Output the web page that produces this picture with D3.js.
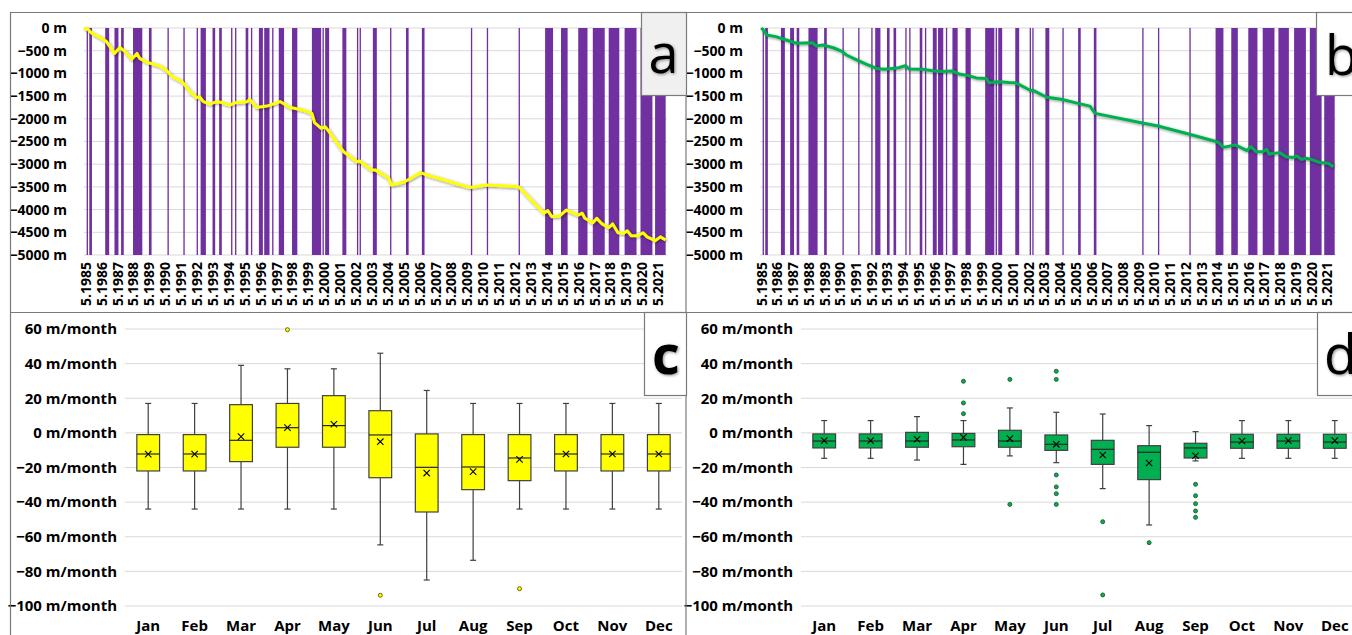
<!DOCTYPE html>
<html>
<head>
<meta charset="utf-8">
<script src="https://cdn.jsdelivr.net/npm/d3@7"></script>
<style>
	body { margin: 0; background: #fff; }
	svg { display: block; font-family: "Open Sans", sans-serif; }
</style>
</head>
<body>
<svg id="chart" width="1352" height="635"></svg>
<script>
/* ---- data: cumulative displacement (panels a, b) ---- */
const firstMonth = "1985-05";
const monthCount = 440; // May 1985 .. Dec 2021
const yearTicks = [1985,1986,1987,1988,1989,1990,1991,1992,1993,1994,1995,1996,1997,1998,1999,2000,2001,2002,2003,
	2004,2005,2006,2007,2008,2009,2010,2011,2012,2013,2014,2015,2016,2017,2018,2019,2020,2021];
const depthTicks = [0,-500,-1000,-1500,-2000,-2500,-3000,-3500,-4000,-4500,-5000];

// flagged months, drawn as full height purple columns (same in a and b)
const flaggedMonths = [
	["1985-07","1985-07"],["1985-09","1985-10"],["1986-09","1986-11"],["1987-04","1987-06"],["1987-09","1987-10"],
	["1988-06","1988-12"],["1989-06","1989-07"],["1990-08","1990-08"],["1991-08","1991-08"],["1992-06","1992-06"],
	["1992-09","1992-12"],["1993-06","1993-07"],["1993-11","1993-12"],["1994-08","1994-08"],["1994-11","1994-11"],
	["1995-07","1995-08"],["1995-11","1995-11"],["1996-05","1996-07"],["1996-09","1996-12"],["1997-03","1997-03"],
	["1997-08","1997-11"],["1998-06","1998-09"],["1999-09","2000-03"],["2000-05","2000-05"],["2000-07","2000-09"],
	["2001-08","2001-10"],["2002-07","2002-07"],["2002-09","2002-09"],["2003-07","2003-09"],["2004-08","2004-08"],
	["2005-08","2005-09"],["2006-08","2006-09"],["2009-09","2009-09"],["2010-09","2010-09"],["2012-09","2012-09"],
	["2014-05","2014-10"],["2015-05","2015-09"],["2016-06","2016-12"],["2017-05","2018-01"],["2018-05","2018-12"],
	["2019-05","2020-01"],["2020-05","2021-01"],["2021-04","2021-11"]
];

const lineADates = ["1985-05","1985-08","1985-11","1986-05","1986-10","1987-04","1987-08","1987-12","1988-05","1988-09",
	"1988-11","1989-05","1990-02","1990-07","1990-11","1991-07","1992-01","1992-06","1992-08","1992-11","1993-04",
	"1993-09","1994-01","1994-07","1994-11","1995-08","1995-10","1996-03","1996-11","1997-09","1998-04","1999-02",
	"1999-09","1999-11","2000-04","2000-07","2000-09","2001-04","2001-09","2002-07","2002-09","2003-06","2003-09",
	"2004-07","2004-09","2005-07","2006-07","2006-10","2009-08","2010-09","2012-09","2014-04","2014-07","2014-10",
	"2015-04","2015-09","2016-06","2016-09","2016-11","2017-05","2017-08","2017-12","2018-05","2018-08","2018-12",
	"2019-04","2019-07","2019-10","2020-03","2020-07","2020-10","2021-04","2021-08","2021-12"];
const lineAValues = [0,-30,-120,-205,-300,-560,-430,-520,-690,-560,
	-670,-760,-835,-925,-1060,-1180,-1400,-1535,-1510,-1620,-1675,
	-1620,-1640,-1700,-1645,-1625,-1570,-1750,-1720,-1620,-1745,-1805,
	-1880,-2085,-2210,-2175,-2245,-2540,-2725,-2945,-2930,-3130,-3130,
	-3310,-3460,-3385,-3185,-3220,-3515,-3460,-3495,-4080,-4020,-4155,
	-4140,-4010,-4120,-4080,-4190,-4290,-4190,-4315,-4400,-4315,-4510,
	-4525,-4465,-4575,-4575,-4510,-4600,-4685,-4600,-4670];

const lineBDates = ["1985-06","1985-08","1985-10","1986-05","1987-01","1987-09","1988-09","1988-12","1989-05","1990-01",
	"1990-08","1990-11","1991-06","1992-02","1992-10","1993-04","1993-10","1994-03","1994-08","1994-11","1995-09",
	"1996-05","1996-12","1997-08","1998-01","1998-09","1999-02","1999-10","1999-12","2000-05","2000-08","2001-03",
	"2001-08","2002-07","2002-10","2003-08","2004-07","2005-08","2006-05","2006-09","2009-10","2010-09","2012-09",
	"2014-06","2014-08","2014-11","2015-08","2016-05","2016-08","2016-12","2017-05","2017-08","2017-10","2018-06",
	"2018-11","2019-04","2019-07","2019-11","2020-02","2020-06","2021-01","2021-07","2021-11"];
const lineBValues = [0,-60,-155,-190,-265,-335,-325,-395,-375,-435,
	-520,-595,-690,-795,-890,-910,-890,-875,-830,-905,-910,
	-940,-960,-945,-1015,-1055,-1100,-1115,-1205,-1190,-1185,-1200,
	-1205,-1365,-1380,-1525,-1570,-1660,-1720,-1880,-2100,-2160,-2340,
	-2505,-2540,-2630,-2575,-2700,-2610,-2725,-2725,-2670,-2775,-2745,
	-2835,-2850,-2820,-2895,-2870,-2895,-2965,-2980,-3055];

/* ---- data: monthly rates (panels c, d) ---- */
const months = ["Jan","Feb","Mar","Apr","May","Jun","Jul","Aug","Sep","Oct","Nov","Dec"];
const rateTicks = [60,40,20,0,-20,-40,-60,-80,-100];

const cHigh = [17, 17, 39, 37, 37, 46, 24.5, 17, 17, 17, 17, 17];
const cQ3   = [-1, -1, 16.3, 17, 21.5, 12.8, -0.6, -1, -1, -1, -1, -1];
const cMed  = [-12.2, -12.2, -4.3, 3, 4.2, -1.2, -19.9, -19.7, -14.5, -12.2, -12.2, -12.2];
const cMean = [-12.3, -12.3, -2.2, 3, 5, -5.1, -23.2, -22.4, -15.3, -12.2, -12.2, -12.2];
const cQ1   = [-22, -22, -16.6, -8.3, -8.3, -25.9, -45.7, -32.8, -27.6, -22, -22, -22];
const cLow  = [-44, -44, -44, -44, -44, -64.7, -85, -73.6, -44, -44, -44, -44];
const cOut  = [[], [], [], [59.6], [], [-93.8], [], [], [-90], [], [], []];

const dHigh = [7.1, 7.1, 9.4, 7.1, 14.4, 11.9, 10.9, 4.2, 0.7, 7.1, 7.1, 7.1];
const dQ3   = [-0.6, -0.6, 0.3, -0.3, 1.5, -1.2, -4.3, -7.4, -6, -0.8, -0.8, -0.8];
const dMed  = [-4.7, -4.7, -4.7, -4.1, -4.7, -6.6, -9.5, -11.2, -8.7, -5.3, -4.7, -5.3];
const dMean = [-4.5, -4.5, -3.7, -2.6, -3.3, -6.6, -12.8, -17.4, -13.2, -4.7, -4.5, -4.5];
const dQ1   = [-8.7, -8.7, -8.3, -8, -8.3, -10.1, -18.2, -27, -14.5, -8.9, -8.9, -8.9];
const dLow  = [-14.7, -14.7, -15.7, -18.2, -13.3, -17.2, -32.2, -53.2, -16.2, -14.7, -14.7, -14.7];
const dOut  = [[], [], [], [29.8, 17.3, 11.1], [30.9, -41.3], [35.6, 30.9, -24.3, -31.2, -35.1, -41.3],
	[-51.3, -93.6], [-63.4], [-29.7, -36.3, -40.9, -45.1, -48.8], [], [], []];

/* ---- helpers ---- */
const gridColor = "#d9d9d9";
const frameColor = "#7a7a7a";
const barColor = "#7030a0";
const minus = v => v < 0 ? "\u2212" + Math.abs(v) : "" + v;

function monthIndex(s) {
	const [y, m] = s.split("-").map(Number);
	const [y0, m0] = firstMonth.split("-").map(Number);
	return (y - y0) * 12 + (m - m0);
}

const svg = d3.select("#chart");
const defs = svg.append("defs");

/* soft shadow used below the lines and the panel letters */
const shadow = defs.append("filter").attr("id", "shadow")
	.attr("x", "-5%").attr("y", "-20%").attr("width", "110%").attr("height", "140%");
shadow.append("feGaussianBlur").attr("in", "SourceAlpha").attr("stdDeviation", 1.6).attr("result", "blur");
shadow.append("feOffset").attr("in", "blur").attr("dx", 0.5).attr("dy", 1.2).attr("result", "off");
shadow.append("feComponentTransfer").attr("in", "off").attr("result", "soft")
	.append("feFuncA").attr("type", "linear").attr("slope", 0.45);
const merge = shadow.append("feMerge");
merge.append("feMergeNode").attr("in", "soft");
merge.append("feMergeNode").attr("in", "SourceGraphic");

/* ---- top panels: displacement with flagged months ---- */
function drawTimePanel(p) {
	const g = svg.append("g").attr("class", "panel-" + p.id);
	const x = d3.scaleLinear().domain([0, monthCount]).range([p.x0, p.x1]);
	const y = d3.scaleLinear().domain([0, -5000]).range([28, 255]);

	g.append("g").selectAll("line").data(depthTicks).join("line")
		.attr("x1", p.x0).attr("x2", p.x1)
		.attr("y1", d => y(d)).attr("y2", d => y(d))
		.attr("stroke", gridColor).attr("stroke-width", 1);

	g.append("g").selectAll("rect").data(flaggedMonths).join("rect")
		.attr("x", d => x(monthIndex(d[0])))
		.attr("width", d => x(monthIndex(d[1]) + 1) - x(monthIndex(d[0])))
		.attr("y", y(0)).attr("height", y(-5000) - y(0))
		.attr("fill", barColor);

	const pts = p.dates.map((d, i) => ({ m: monthIndex(d), v: p.values[i] }));
	const line = d3.line().x(d => x(d.m)).y(d => y(d.v)).curve(d3.curveLinear);
	g.append("path").datum(pts)
		.attr("d", line)
		.attr("fill", "none")
		.attr("stroke", p.color)
		.attr("stroke-width", 3)
		.attr("stroke-linejoin", "round")
		.attr("filter", "url(#shadow)");

	g.append("g").selectAll("text").data(depthTicks).join("text")
		.attr("x", p.labelRight).attr("y", d => y(d)).attr("dy", "0.35em")
		.attr("text-anchor", "end")
		.attr("font-size", 14).attr("font-weight", 700).attr("fill", "#000")
		.text(d => minus(d) + " m");

	g.append("g").selectAll("text").data(yearTicks).join("text")
		.attr("transform", d => `translate(${x(monthIndex(d + "-05") + 0.5) + 1},262) rotate(-90)`)
		.attr("dy", "0.36em")
		.attr("text-anchor", "end")
		.attr("font-size", 14).attr("font-weight", 700).attr("fill", "#000")
		.text(d => "5." + d);
}

drawTimePanel({ id: "a", x0: 84, x1: 667, labelRight: 67, dates: lineADates, values: lineAValues, color: "#ffff00" });
drawTimePanel({ id: "b", x0: 760, x1: 1336, labelRight: 743, dates: lineBDates, values: lineBValues, color: "#00b050" });

/* ---- bottom panels: monthly box plots ---- */
function drawBoxPanel(p) {
	const g = svg.append("g").attr("class", "panel-" + p.id);
	const x = d3.scaleBand().domain(months).range([p.x0, p.x1]);
	const y = d3.scaleLinear().domain([60, -100]).range([329, 606]);
	const bw = x.bandwidth() * 0.49;
	const cap = 3;
	const edge = "#404040";

	g.append("g").selectAll("line").data(rateTicks).join("line")
		.attr("x1", p.x0).attr("x2", p.x1)
		.attr("y1", d => y(d)).attr("y2", d => y(d))
		.attr("stroke", gridColor).attr("stroke-width", 1);

	const rows = months.map((m, i) => ({
		m, hi: p.hi[i], q3: p.q3[i], med: p.med[i], mean: p.mean[i], q1: p.q1[i], lo: p.lo[i], out: p.out[i]
	}));

	const box = g.append("g").selectAll("g").data(rows).join("g")
		.attr("transform", d => `translate(${x(d.m) + x.bandwidth() / 2},0)`);

	// whiskers
	box.append("line").attr("x1", 0).attr("x2", 0)
		.attr("y1", d => y(d.hi)).attr("y2", d => y(d.q3))
		.attr("stroke", edge).attr("stroke-width", 1.2);
	box.append("line").attr("x1", 0).attr("x2", 0)
		.attr("y1", d => y(d.q1)).attr("y2", d => y(d.lo))
		.attr("stroke", edge).attr("stroke-width", 1.2);
	box.append("line").attr("x1", -cap).attr("x2", cap)
		.attr("y1", d => y(d.hi)).attr("y2", d => y(d.hi))
		.attr("stroke", edge).attr("stroke-width", 1.2);
	box.append("line").attr("x1", -cap).attr("x2", cap)
		.attr("y1", d => y(d.lo)).attr("y2", d => y(d.lo))
		.attr("stroke", edge).attr("stroke-width", 1.2);

	box.append("rect")
		.attr("x", -bw / 2).attr("width", bw)
		.attr("y", d => y(d.q3)).attr("height", d => y(d.q1) - y(d.q3))
		.attr("fill", p.fill).attr("stroke", edge).attr("stroke-width", 1.2);

	box.append("line").attr("x1", -bw / 2).attr("x2", bw / 2)
		.attr("y1", d => y(d.med)).attr("y2", d => y(d.med))
		.attr("stroke", "#262626").attr("stroke-width", 1.2);

	// mean marker
	const s = 3.2;
	box.append("path")
		.attr("d", d => `M${-s},${y(d.mean) - s}L${s},${y(d.mean) + s}M${-s},${y(d.mean) + s}L${s},${y(d.mean) - s}`)
		.attr("stroke", "#000").attr("stroke-width", 1.1).attr("fill", "none");

	box.selectAll("circle").data(d => d.out).join("circle")
		.attr("cx", 0).attr("cy", d => y(d)).attr("r", 2)
		.attr("fill", p.fill).attr("stroke", p.dot).attr("stroke-width", 0.9);

	g.append("g").selectAll("text").data(rateTicks).join("text")
		.attr("x", p.labelRight).attr("y", d => y(d)).attr("dy", "0.35em")
		.attr("text-anchor", "end")
		.attr("font-size", 15).attr("font-weight", 700).attr("fill", "#000")
		.text(d => minus(d) + " m/month");

	g.append("g").selectAll("text").data(months).join("text")
		.attr("x", d => x(d) + x.bandwidth() / 2).attr("y", 631)
		.attr("text-anchor", "middle")
		.attr("font-size", 15).attr("font-weight", 700).attr("fill", "#000")
		.text(d => d);
}

drawBoxPanel({ id: "c", x0: 125, x1: 682, labelRight: 117, fill: "#ffff00", dot: "#5a5a00",
	hi: cHigh, q3: cQ3, med: cMed, mean: cMean, q1: cQ1, lo: cLow, out: cOut });
drawBoxPanel({ id: "d", x0: 801, x1: 1358, labelRight: 793, fill: "#00b050", dot: "#1e5a32",
	hi: dHigh, q3: dQ3, med: dMed, mean: dMean, q1: dQ1, lo: dLow, out: dOut });

/* ---- frame and panel letters ---- */
const frame = svg.append("g").attr("stroke", frameColor).attr("stroke-width", 1.2);
frame.append("line").attr("x1", 10).attr("x2", 1352).attr("y1", 12.5).attr("y2", 12.5);
frame.append("line").attr("x1", 10).attr("x2", 1352).attr("y1", 312.5).attr("y2", 312.5);
frame.append("line").attr("x1", 10.5).attr("x2", 10.5).attr("y1", 12).attr("y2", 635);
frame.append("line").attr("x1", 686).attr("x2", 686).attr("y1", 12).attr("y2", 635);

const letters = [
	{ t: "a", x: 641, y: 12, w: 45, fill: "#f0f0f0", tx: 663.5, ty: 73, anchor: "middle", bold: false },
	{ t: "b", x: 1316, y: 12, w: 50, fill: "#ffffff", tx: 1325, ty: 75, anchor: "start", bold: false },
	{ t: "c", x: 644, y: 312, w: 42, fill: "#ffffff", tx: 666, ty: 374, anchor: "middle", bold: true },
	{ t: "d", x: 1317, y: 312, w: 50, fill: "#ffffff", tx: 1324, ty: 374, anchor: "start", bold: false }
];
const lg = svg.append("g").selectAll("g").data(letters).join("g");
lg.append("rect")
	.attr("x", d => d.x + 0.5).attr("y", d => d.y + 0.5).attr("width", d => d.w).attr("height", 83)
	.attr("fill", d => d.fill).attr("stroke", frameColor).attr("stroke-width", 1.2);
lg.append("text")
	.attr("x", d => d.tx).attr("y", d => d.ty)
	.attr("text-anchor", d => d.anchor)
	.attr("font-size", 54)
	.attr("font-weight", d => d.bold ? 700 : 400)
	.attr("fill", "#000")
	.attr("filter", "url(#shadow)")
	.text(d => d.t);
</script>
</body>
</html>
